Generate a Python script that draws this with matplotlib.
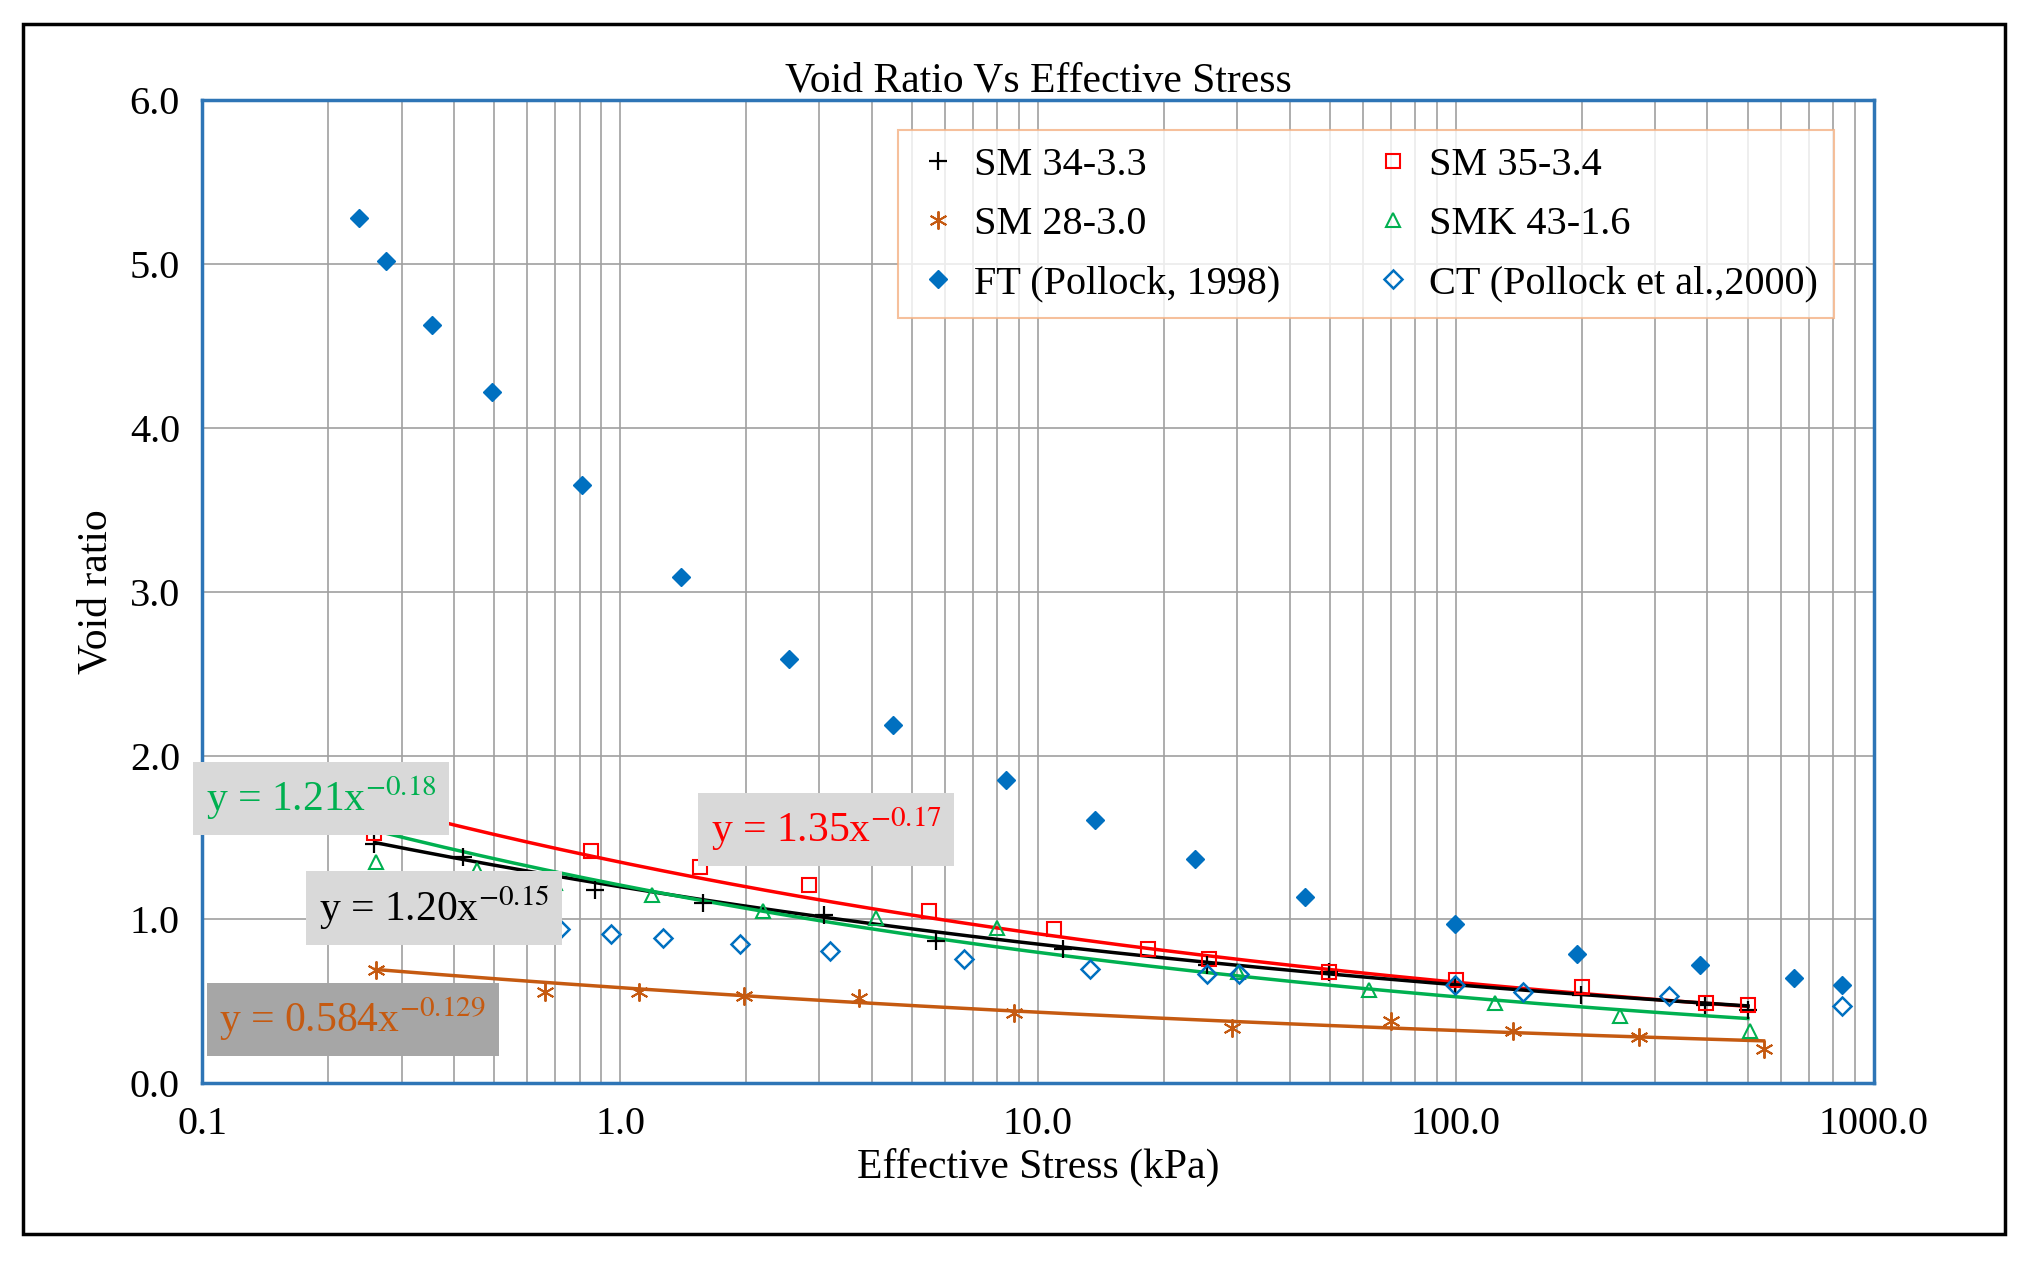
import numpy as np
import matplotlib
matplotlib.use("Agg")
import matplotlib.pyplot as plt
from matplotlib.patches import Rectangle

plt.rcParams["font.family"] = ["Liberation Serif", "DejaVu Serif"]
plt.rcParams["mathtext.fontset"] = "stix"

# ── data ─────────────────────────────────────────────────────────────────────
ft_x = [0.237, 0.275, 0.354, 0.493, 0.81, 1.40, 2.54, 4.49, 8.39, 13.7, 23.7, 43.6, 99.6, 195, 384, 646, 840]
ft_y = [5.28, 5.02, 4.63, 4.22, 3.65, 3.09, 2.59, 2.19, 1.85, 1.61, 1.37, 1.14, 0.97, 0.79, 0.72, 0.64, 0.60]

ct_x = [0.72, 0.95, 1.27, 1.94, 3.18, 6.66, 13.3, 25.4, 30.3, 99.6, 145, 323, 840]
ct_y = [0.94, 0.91, 0.89, 0.85, 0.81, 0.76, 0.70, 0.67, 0.67, 0.60, 0.56, 0.53, 0.47]

sm35_x = [0.258, 0.85, 1.55, 2.83, 5.5, 10.9, 18.3, 25.6, 49.8, 100, 200, 397, 500]
sm35_y = [1.53, 1.42, 1.32, 1.21, 1.05, 0.94, 0.82, 0.76, 0.68, 0.63, 0.59, 0.49, 0.48]

sm34_x = [0.258, 0.42, 0.87, 1.58, 3.08, 5.7, 11.5, 25.4, 49.7, 99.6, 199, 395, 500]
sm34_y = [1.46, 1.38, 1.18, 1.10, 1.03, 0.87, 0.82, 0.72, 0.68, 0.60, 0.54, 0.48, 0.45]

smk_x = [0.26, 0.455, 0.70, 1.19, 2.2, 4.1, 7.97, 30.1, 62, 124, 247, 505]
smk_y = [1.35, 1.30, 1.22, 1.15, 1.05, 1.01, 0.95, 0.68, 0.57, 0.49, 0.41, 0.32]

sm28_x = [0.26, 0.66, 1.11, 1.98, 3.73, 8.75, 29.2, 70, 137, 275, 545]
sm28_y = [0.69, 0.56, 0.56, 0.53, 0.52, 0.43, 0.34, 0.38, 0.32, 0.28, 0.21]

# trendlines: (a, b, x_start, x_end, colour)
trends = {
    "red":    (1.35, -0.17, 0.28, 500, "#ff0000"),
    "black":  (1.20, -0.15, 0.26, 500, "black"),
    "green":  (1.21, -0.18, 0.27, 500, "#00b050"),
    "orange": (0.584, -0.129, 0.26, 545, "#c55a11"),
}

fig = plt.figure(figsize=(20.34, 12.7), dpi=100)
fig.patches.append(Rectangle((0.0115, 0.028), 0.974, 0.953, transform=fig.transFigure,
                             fill=False, edgecolor="black", linewidth=2.5))
ax = fig.add_axes([0.0994, 0.147, 0.8218, 0.774])
ax.set_xscale("log")
ax.set_xlim(0.1, 1000)
ax.set_ylim(0, 6)

ax.grid(True, which="major", color="#a0a0a0", linewidth=1.2)
ax.grid(True, which="minor", axis="x", color="#a0a0a0", linewidth=1.2)
ax.set_axisbelow(True)
for s in ax.spines.values():
    s.set_color("#2e75b6")
    s.set_linewidth(2.5)

for key, (a, b, x0, x1, c) in trends.items():
    xs = np.logspace(np.log10(x0), np.log10(x1), 200)
    ax.plot(xs, a * xs ** b, color=c, linewidth=2.5, zorder=2)

ms = 10
h34, = ax.plot(sm34_x, sm34_y, "+", color="black", ms=13, mew=1.6, ls="none", label="SM 34-3.3", zorder=3)
h35, = ax.plot(sm35_x, sm35_y, "s", mfc="none", mec="#ff0000", ms=ms, mew=1.5, ls="none", label="SM 35-3.4", zorder=3)
h28, = ax.plot(sm28_x, sm28_y, marker=(6, 2, 0), color="#c55a11", ms=13, mew=1.4, ls="none", label="SM 28-3.0", zorder=3)
hk, = ax.plot(smk_x, smk_y, "^", mfc="none", mec="#00b050", ms=ms, mew=1.5, ls="none", label="SMK 43-1.6", zorder=3)
hft, = ax.plot(ft_x, ft_y, "D", color="#0070c0", ms=9, ls="none", label="FT (Pollock, 1998)", zorder=3)
hct, = ax.plot(ct_x, ct_y, "D", mfc="none", mec="#0070c0", ms=9, mew=1.8, ls="none", label="CT (Pollock et al.,2000)", zorder=3)

handles = [h34, h28, hft, h35, hk, hct]
leg = ax.legend(handles, [h.get_label() for h in handles], ncol=2, loc="upper right",
                fontsize=29, frameon=True, fancybox=False,
                edgecolor="#f4b183", borderpad=0.4, columnspacing=2.2, handletextpad=0.3,
                handlelength=1.2, labelspacing=0.55, bbox_to_anchor=(0.9885, 0.99))
leg.get_frame().set_linewidth(1.5)

box = dict(boxstyle="square,pad=0.3", facecolor="#d9d9d9", edgecolor="none")
fs = 30
ax.text(0.102, 1.74, r"y = 1.21x$^{-0.18}$", color="#00b050", fontsize=fs, bbox=box, va="center")
ax.text(1.65, 1.55, r"y = 1.35x$^{-0.17}$", color="#ff0000", fontsize=fs, bbox=box, va="center")
ax.text(0.19, 1.07, r"y = 1.20x$^{-0.15}$", color="black", fontsize=fs, bbox=box, va="center")
ax.text(0.11, 0.39, r"y = 0.584x$^{-0.129}$", color="#c55a11", fontsize=fs,
        bbox=dict(boxstyle="square,pad=0.3", facecolor="#a6a6a6", edgecolor="none"), va="center")

ax.set_xticks([0.1, 1, 10, 100, 1000])
ax.set_xticklabels(["0.1", "1.0", "10.0", "100.0", "1000.0"])
ax.set_yticks(np.arange(0, 6.1, 1.0))
ax.set_yticklabels([f"{v:.1f}" for v in np.arange(0, 6.1, 1.0)])
ax.tick_params(axis="both", which="both", length=0, labelsize=29, pad=16)

ax.set_title("Void Ratio Vs Effective Stress", fontsize=30, pad=6)
ax.set_xlabel("Effective Stress (kPa)", fontsize=30, labelpad=4)
ax.set_ylabel("Void ratio", fontsize=30, labelpad=10)

fig.savefig("out.png", dpi=100)
